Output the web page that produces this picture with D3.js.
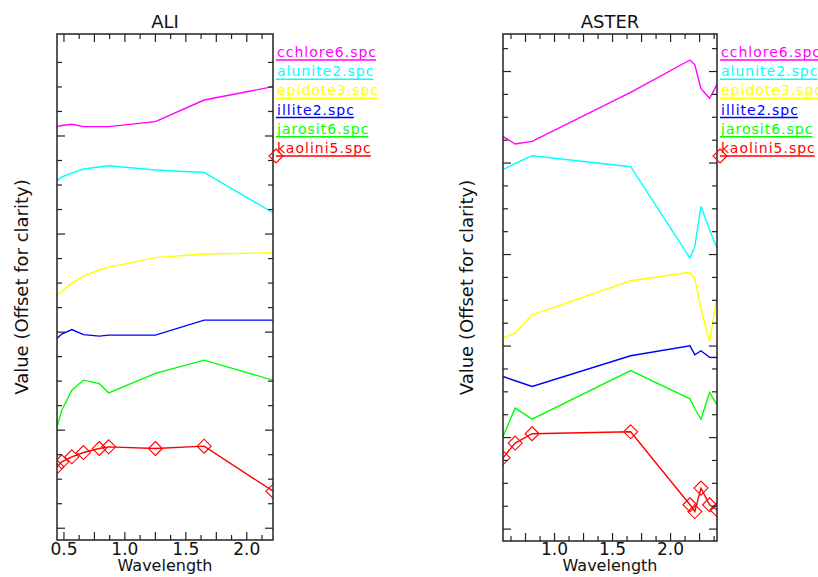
<!DOCTYPE html>
<html>
<head>
<meta charset="utf-8">
<script src="https://cdn.jsdelivr.net/npm/d3@7"></script>
<style>
  body { margin: 0; background: #fff; }
  text { font-family: "DejaVu Sans", sans-serif; fill: #111; }
</style>
</head>
<body>
<script>
"use strict";

// spectra names / colours (legend order)
const mineralNames = ["cchlore6.spc", "alunite2.spc", "epidote3.spc", "illite2.spc", "jarosit6.spc", "kaolini5.spc"];
const mineralColors = ["#ff00ff", "#00ffff", "#ffff00", "#0000ff", "#00ff00", "#ff0000"];

// band centres (micrometres)
const aliWavelengths = [0.443, 0.482, 0.565, 0.660, 0.790, 0.867, 1.250, 1.650, 2.215];
const asterWavelengths = [0.556, 0.661, 0.807, 1.656, 2.167, 2.209, 2.262, 2.336, 2.400];

// ALI resampled spectra, offset for clarity
const aliChlorite = [4.095, 4.107, 4.120, 4.095, 4.095, 4.095, 4.146, 4.367, 4.503];
const aliAlunite  = [3.541, 3.582, 3.622, 3.663, 3.684, 3.697, 3.653, 3.628, 3.217];
const aliEpidote  = [2.378, 2.418, 2.500, 2.571, 2.633, 2.663, 2.760, 2.796, 2.809];
const aliIllite   = [1.936, 1.980, 2.026, 1.974, 1.959, 1.969, 1.969, 2.122, 2.122];
const aliJarosite = [1.034, 1.204, 1.408, 1.510, 1.474, 1.381, 1.579, 1.714, 1.510];
const aliKaolin   = [0.626, 0.677, 0.728, 0.772, 0.813, 0.830, 0.813, 0.837, 0.378];

// ASTER resampled spectra, offset for clarity
const asterChlorite = [4.291, 4.208, 4.236, 4.772, 5.126, 5.074, 4.812, 4.708, 4.856];
const asterAlunite  = [3.927, 3.995, 4.080, 3.960, 2.962, 3.089, 3.526, 3.271, 3.071];
const asterEpidote  = [2.087, 2.142, 2.342, 2.714, 2.807, 2.736, 2.408, 2.050, 2.542];
const asterIllite   = [1.668, 1.621, 1.558, 1.894, 2.003, 1.905, 1.949, 1.878, 1.875];
const asterJarosite = [1.012, 1.322, 1.202, 1.733, 1.424, 1.315, 1.202, 1.493, 1.358];
const asterKaolin   = [0.779, 0.940, 1.042, 1.063, 0.266, 0.192, 0.448, 0.266, 0.211];

const xTickLabels = [0.5, 1.0, 1.5, 2.0];

(function(){
    const measurements = {
        width: 818,
        height: 577
    }

    const panels = [
        { id: "ali", title: "ALI", wavelengths: aliWavelengths,
          spectra: [aliChlorite, aliAlunite, aliEpidote, aliIllite, aliJarosite, aliKaolin],
          left: 57, right: 273, top: 34, bottom: 540, yDomain: [-0.12, 5.04], yLabelX: 28 },
        { id: "aster", title: "ASTER", wavelengths: asterWavelengths,
          spectra: [asterChlorite, asterAlunite, asterEpidote, asterIllite, asterJarosite, asterKaolin],
          left: 503, right: 717, top: 34, bottom: 541, yDomain: [-0.13, 5.41], yLabelX: 473 }
    ]

    const svg = d3.select("body").append("svg")
        .attr("width", measurements.width)
        .attr("height", measurements.height)

    const diamond = "M0,-7L7,0L0,7L-7,0Z"

    panels.forEach(drawPanel)

    function drawPanel(p) {
        const scaleX = d3.scaleLinear()
            .domain(d3.extent(p.wavelengths))
            .range([p.left, p.right])
        const scaleY = d3.scaleLinear()
            .domain(p.yDomain)
            .range([p.bottom, p.top])

        const g = svg.append("g")

        svg.append("clipPath").attr("id", "clip-" + p.id)
            .append("rect")
            .attr("x", p.left).attr("y", p.top)
            .attr("width", p.right - p.left).attr("height", p.bottom - p.top)

        // spectra
        const plot = g.append("g").attr("clip-path", "url(#clip-" + p.id + ")")
        const line = d3.line()
            .x((d, i) => scaleX(p.wavelengths[i]))
            .y(d => scaleY(d))

        p.spectra.forEach((values, k) => {
            plot.append("path")
                .attr("d", line(values))
                .attr("fill", "none")
                .attr("stroke", mineralColors[k])
                .attr("stroke-width", 1.4)
        })

        // diamonds on the last (kaolinite) spectrum
        const kao = p.spectra[p.spectra.length - 1]
        plot.selectAll(".mark")
            .data(kao)
            .enter()
            .append("path")
                .attr("d", diamond)
                .attr("transform", (d, i) => `translate(${scaleX(p.wavelengths[i])},${scaleY(d)})`)
                .attr("fill", "none")
                .attr("stroke", "#ff0000")
                .attr("stroke-width", 1.1)

        drawAxes(g, p, scaleX, scaleY)
        drawLegend(g, p)
    }

    function drawAxes(g, p, scaleX, scaleY) {
        const axisColor = "#222"
        const [x0, x1] = scaleX.domain()
        const xTicks = d3.range(Math.ceil(x0 / 0.125) * 0.125, x1 + 1e-9, 0.125)
        const [y0, y1] = scaleY.domain()
        const yTicks = d3.range(Math.ceil(y0 / 0.25) * 0.25, y1 + 1e-9, 0.25)
            .filter(v => scaleY(v) > p.top + 5)

        const isMajorX = v => Math.abs(v / 0.25 - Math.round(v / 0.25)) < 1e-6
        const isMajorY = v => Math.abs(v - Math.round(v)) < 1e-6

        const ticks = g.append("g").attr("stroke", axisColor).attr("stroke-width", 1.2)

        xTicks.forEach(v => {
            const x = scaleX(v)
            const len = isMajorX(v) ? 8 : 5
            ticks.append("line").attr("x1", x).attr("x2", x).attr("y1", p.bottom).attr("y2", p.bottom - len)
            ticks.append("line").attr("x1", x).attr("x2", x).attr("y1", p.top).attr("y2", p.top + len)
        })
        yTicks.forEach(v => {
            const y = scaleY(v)
            const len = isMajorY(v) ? 8 : 5
            ticks.append("line").attr("y1", y).attr("y2", y).attr("x1", p.left).attr("x2", p.left + len)
            ticks.append("line").attr("y1", y).attr("y2", y).attr("x1", p.right).attr("x2", p.right - len)
        })

        g.append("rect")
            .attr("x", p.left).attr("y", p.top)
            .attr("width", p.right - p.left).attr("height", p.bottom - p.top)
            .attr("fill", "none")
            .attr("stroke", axisColor)
            .attr("stroke-width", 1.5)

        g.selectAll(".xlab")
            .data(xTickLabels.filter(v => v >= x0 - 1e-9 && v <= x1 + 1e-9))
            .enter()
            .append("text")
                .attr("x", d => scaleX(d))
                .attr("y", 555)
                .attr("text-anchor", "middle")
                .style("font-size", "17px")
                .text(d => d.toFixed(1))

        const cx = (p.left + p.right) / 2
        g.append("text")
            .attr("x", cx).attr("y", 570.5)
            .attr("text-anchor", "middle")
            .style("font-size", "16px")
            .text("Wavelength")

        g.append("text")
            .attr("x", cx).attr("y", 28.3)
            .attr("text-anchor", "middle")
            .style("font-size", "18px")
            .text(p.title)

        g.append("text")
            .attr("transform", `translate(${p.yLabelX},${(p.top + p.bottom) / 2}) rotate(-90)`)
            .attr("text-anchor", "middle")
            .style("font-size", "18px")
            .text("Value (Offset for clarity)")
    }

    function drawLegend(g, p) {
        const lx = p.right + 3
        mineralNames.forEach((name, k) => {
            const uy = 60 + 19.2 * k
            const t = g.append("text")
                .attr("x", lx + 1)
                .attr("y", uy - 3)
                .style("font-size", "14px")
                .style("letter-spacing", "1px")
                .style("fill", mineralColors[k])
                .text(name)
            const w = t.node().getComputedTextLength()
            g.append("line")
                .attr("x1", lx).attr("x2", lx + w)
                .attr("y1", uy).attr("y2", uy)
                .attr("stroke", mineralColors[k])
                .attr("stroke-width", 1.5)
        })
        g.append("path")
            .attr("d", diamond)
            .attr("transform", `translate(${lx},${60 + 19.2 * 5})`)
            .attr("fill", "none")
            .attr("stroke", "#ff0000")
            .attr("stroke-width", 1.1)
    }
})()
</script>
</body>
</html>
